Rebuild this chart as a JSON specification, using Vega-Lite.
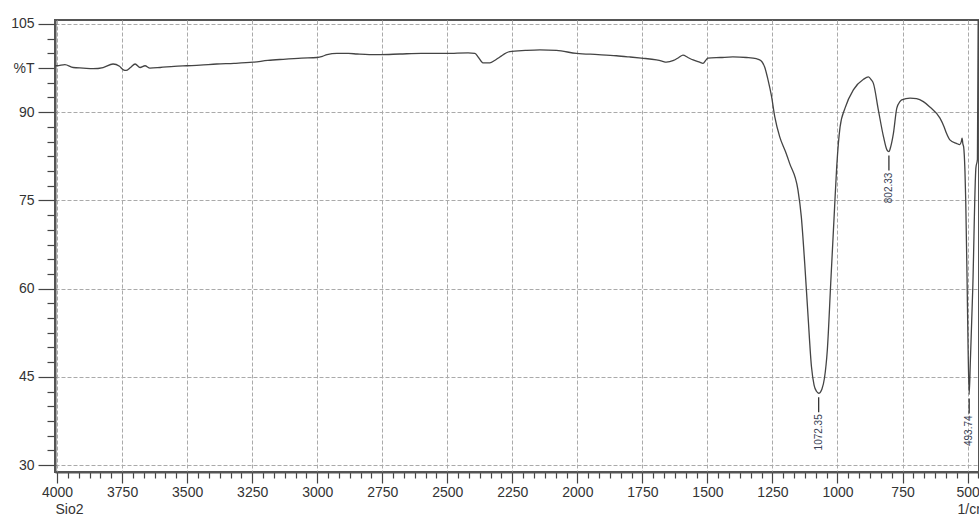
{
  "$schema": "https://vega.github.io/schema/vega-lite/v6.json",
  "autosize": "none",
  "width": 924,
  "height": 452,
  "padding": {"left": 55, "top": 20, "right": 0, "bottom": 44},
  "background": "white",
  "config": {
    "view": {"stroke": "#555", "strokeWidth": 2},
    "font": "Liberation Sans",
    "axis": {"labelFont": "Liberation Sans", "titleFont": "Liberation Sans", "labelColor": "#333", "titleColor": "#333", "tickColor": "#444", "domainColor": "#555", "domainWidth": 2, "tickWidth": 1.2}
  },
  "datasets": {
    "spectrum": [
      {"wn": 4008, "t": 97.9}, {"wn": 4000, "t": 97.9}, {"wn": 3970, "t": 98.1}, {"wn": 3938, "t": 97.6},
      {"wn": 3900, "t": 97.5}, {"wn": 3862, "t": 97.4}, {"wn": 3823, "t": 97.6}, {"wn": 3785, "t": 98.2},
      {"wn": 3760, "t": 97.8}, {"wn": 3745, "t": 97.2}, {"wn": 3735, "t": 97.1}, {"wn": 3718, "t": 97.6},
      {"wn": 3700, "t": 98.2}, {"wn": 3681, "t": 97.6}, {"wn": 3662, "t": 97.9}, {"wn": 3643, "t": 97.5},
      {"wn": 3604, "t": 97.6}, {"wn": 3550, "t": 97.8}, {"wn": 3502, "t": 97.9}, {"wn": 3450, "t": 98.0},
      {"wn": 3386, "t": 98.2}, {"wn": 3320, "t": 98.3}, {"wn": 3246, "t": 98.5}, {"wn": 3190, "t": 98.8},
      {"wn": 3131, "t": 99.0}, {"wn": 3060, "t": 99.2}, {"wn": 3001, "t": 99.3}, {"wn": 2980, "t": 99.5},
      {"wn": 2962, "t": 99.8}, {"wn": 2924, "t": 100.0}, {"wn": 2880, "t": 100.0}, {"wn": 2847, "t": 99.9},
      {"wn": 2800, "t": 99.8}, {"wn": 2759, "t": 99.8}, {"wn": 2682, "t": 99.9}, {"wn": 2600, "t": 100.0},
      {"wn": 2503, "t": 100.0}, {"wn": 2420, "t": 100.1}, {"wn": 2394, "t": 100.0}, {"wn": 2380, "t": 99.3},
      {"wn": 2363, "t": 98.4}, {"wn": 2336, "t": 98.4}, {"wn": 2318, "t": 98.8}, {"wn": 2298, "t": 99.4},
      {"wn": 2260, "t": 100.3}, {"wn": 2200, "t": 100.5}, {"wn": 2144, "t": 100.6}, {"wn": 2080, "t": 100.5},
      {"wn": 2003, "t": 100.0}, {"wn": 1920, "t": 99.8}, {"wn": 1850, "t": 99.6}, {"wn": 1800, "t": 99.4},
      {"wn": 1754, "t": 99.2}, {"wn": 1696, "t": 98.9}, {"wn": 1675, "t": 98.7}, {"wn": 1658, "t": 98.5},
      {"wn": 1630, "t": 98.8}, {"wn": 1610, "t": 99.3}, {"wn": 1594, "t": 99.7}, {"wn": 1575, "t": 99.3},
      {"wn": 1555, "t": 98.9}, {"wn": 1530, "t": 98.5}, {"wn": 1517, "t": 98.3}, {"wn": 1505, "t": 98.9},
      {"wn": 1498, "t": 99.2}, {"wn": 1450, "t": 99.3}, {"wn": 1402, "t": 99.4}, {"wn": 1350, "t": 99.3},
      {"wn": 1312, "t": 99.1}, {"wn": 1295, "t": 98.8}, {"wn": 1280, "t": 97.7}, {"wn": 1267, "t": 95.5},
      {"wn": 1254, "t": 92.8}, {"wn": 1241, "t": 89.2}, {"wn": 1222, "t": 85.8}, {"wn": 1200, "t": 83.3},
      {"wn": 1184, "t": 81.3}, {"wn": 1152, "t": 76.8}, {"wn": 1139, "t": 72.2}, {"wn": 1126, "t": 64.3},
      {"wn": 1113, "t": 55.2}, {"wn": 1100, "t": 46.7}, {"wn": 1090, "t": 43.6}, {"wn": 1080, "t": 42.5},
      {"wn": 1072.35, "t": 42.2}, {"wn": 1060, "t": 42.9}, {"wn": 1050, "t": 44.8}, {"wn": 1039, "t": 49.6},
      {"wn": 1026, "t": 60.9}, {"wn": 1013, "t": 72.2}, {"wn": 1003, "t": 80.7}, {"wn": 990, "t": 87.5},
      {"wn": 971, "t": 90.7}, {"wn": 939, "t": 93.8}, {"wn": 900, "t": 95.6}, {"wn": 881, "t": 96.0},
      {"wn": 870, "t": 95.5}, {"wn": 862, "t": 94.9}, {"wn": 843, "t": 90.4}, {"wn": 823, "t": 85.8},
      {"wn": 810, "t": 83.6}, {"wn": 802.33, "t": 83.3}, {"wn": 795, "t": 84.2}, {"wn": 785, "t": 86.4},
      {"wn": 772, "t": 90.7}, {"wn": 760, "t": 91.8}, {"wn": 753, "t": 92.1}, {"wn": 721, "t": 92.4},
      {"wn": 696, "t": 92.3}, {"wn": 670, "t": 91.8}, {"wn": 645, "t": 90.9}, {"wn": 606, "t": 89.0},
      {"wn": 590, "t": 87.5}, {"wn": 581, "t": 86.4}, {"wn": 568, "t": 85.3}, {"wn": 543, "t": 84.7},
      {"wn": 530, "t": 84.5}, {"wn": 524, "t": 85.0}, {"wn": 521, "t": 85.6}, {"wn": 518, "t": 84.6},
      {"wn": 515, "t": 84.1}, {"wn": 510, "t": 80.0}, {"wn": 507, "t": 75.0}, {"wn": 502, "t": 62.0},
      {"wn": 498, "t": 50.0}, {"wn": 493.74, "t": 42.0}, {"wn": 489, "t": 48.0}, {"wn": 480, "t": 60.0},
      {"wn": 468, "t": 80.5}, {"wn": 462, "t": 82.0}, {"wn": 459, "t": 107.0}
    ],
    "peaks": [
      {"wn": 1072.35, "t": 42.2, "label": "1072.35"},
      {"wn": 802.33, "t": 83.3, "label": "802.33"},
      {"wn": 493.74, "t": 42.0, "label": "493.74"}
    ]
  },
  "layer": [
    {
      "data": {"name": "spectrum"},
      "mark": {"type": "line", "color": "#444", "strokeWidth": 1.3, "clip": true, "interpolate": "monotone"},
      "encoding": {
        "x": {
          "field": "wn", "type": "quantitative",
          "scale": {"domain": [4008, 456], "nice": false, "zero": false},
          "axis": {
            "title": "1/cm", "titleFontSize": 14, "titleFontWeight": "normal", "titleX": 902, "titleY": 41, "titleAlign": "left", "titleBaseline": "alphabetic",
            "tickCount": 500,
            "values": [4000, 3958.333, 3916.667, 3875, 3833.333, 3791.667, 3750, 3708.333, 3666.667, 3625, 3583.333, 3541.667, 3500, 3458.333, 3416.667, 3375, 3333.333, 3291.667, 3250, 3208.333, 3166.667, 3125, 3083.333, 3041.667, 3000, 2958.333, 2916.667, 2875, 2833.333, 2791.667, 2750, 2708.333, 2666.667, 2625, 2583.333, 2541.667, 2500, 2458.333, 2416.667, 2375, 2333.333, 2291.667, 2250, 2208.333, 2166.667, 2125, 2083.333, 2041.667, 2000, 1958.333, 1916.667, 1875, 1833.333, 1791.667, 1750, 1708.333, 1666.667, 1625, 1583.333, 1541.667, 1500, 1458.333, 1416.667, 1375, 1333.333, 1291.667, 1250, 1208.333, 1166.667, 1125, 1083.333, 1041.667, 1000, 958.333, 916.667, 875, 833.333, 791.667, 750, 708.333, 666.667, 625, 583.333, 541.667, 500, 458.333],
            "labelExpr": "abs(datum.value/250 - round(datum.value/250)) < 0.001 ? format(datum.value, 'd') : ''",
            "labelFontSize": 14, "labelOverlap": false, "labelFlush": false, "labelPadding": 2,
            "tickSize": {"condition": {"test": "abs(datum.value/250 - round(datum.value/250)) < 0.001", "value": 11}, "value": 6},
            "grid": true, "gridColor": "#aaa", "gridDash": [4, 2], "gridWidth": 1,
            "gridOpacity": {"condition": {"test": "abs(datum.value/250 - round(datum.value/250)) < 0.001", "value": 1}, "value": 0}
          }
        },
        "y": {
          "field": "t", "type": "quantitative",
          "scale": {"domain": [28.81, 105.68], "nice": false, "zero": false},
          "axis": {
            "title": "Sio2", "titleFontSize": 14, "titleFontWeight": "normal", "titleAngle": 0, "titleX": 0, "titleY": 493, "titleAlign": "left", "titleBaseline": "alphabetic",
            "tickCount": 500,
            "values": [30, 32.5, 35, 37.5, 40, 42.5, 45, 47.5, 50, 52.5, 55, 57.5, 60, 62.5, 65, 67.5, 70, 72.5, 75, 77.5, 80, 82.5, 85, 87.5, 90, 92.5, 95, 97.5, 100, 102.5, 105],
            "labelExpr": "datum.value === 97.5 ? '%T' : (datum.value % 15 === 0 ? format(datum.value, 'd') : '')",
            "labelFontSize": 14, "labelOverlap": false, "labelFlush": false, "labelPadding": 4,
            "tickSize": {"condition": {"test": "datum.value % 15 === 0 || datum.value === 97.5", "value": 17}, "value": 8},
            "grid": true, "gridColor": "#aaa", "gridDash": [4, 2], "gridWidth": 1,
            "gridOpacity": {"condition": {"test": "datum.value % 15 === 0", "value": 1}, "value": 0}
          }
        }
      }
    },
    {
      "data": {"name": "peaks"},
      "mark": {"type": "rule", "color": "#333", "strokeWidth": 1.3, "yOffset": 4, "y2Offset": 19},
      "encoding": {
        "x": {"field": "wn", "type": "quantitative"},
        "y": {"field": "t", "type": "quantitative"},
        "y2": {"field": "t"}
      }
    },
    {
      "data": {"name": "peaks"},
      "mark": {"type": "text", "color": "#3a3f55", "fontSize": 10, "angle": 270, "align": "right", "baseline": "middle", "yOffset": 21},
      "encoding": {
        "x": {"field": "wn", "type": "quantitative"},
        "y": {"field": "t", "type": "quantitative"},
        "text": {"field": "label"}
      }
    },
    {
      "mark": {"type": "rule", "color": "#111", "strokeWidth": 1.5},
      "encoding": {
        "x": {"datum": 2000, "type": "quantitative"}
      }
    }
  ]
}
